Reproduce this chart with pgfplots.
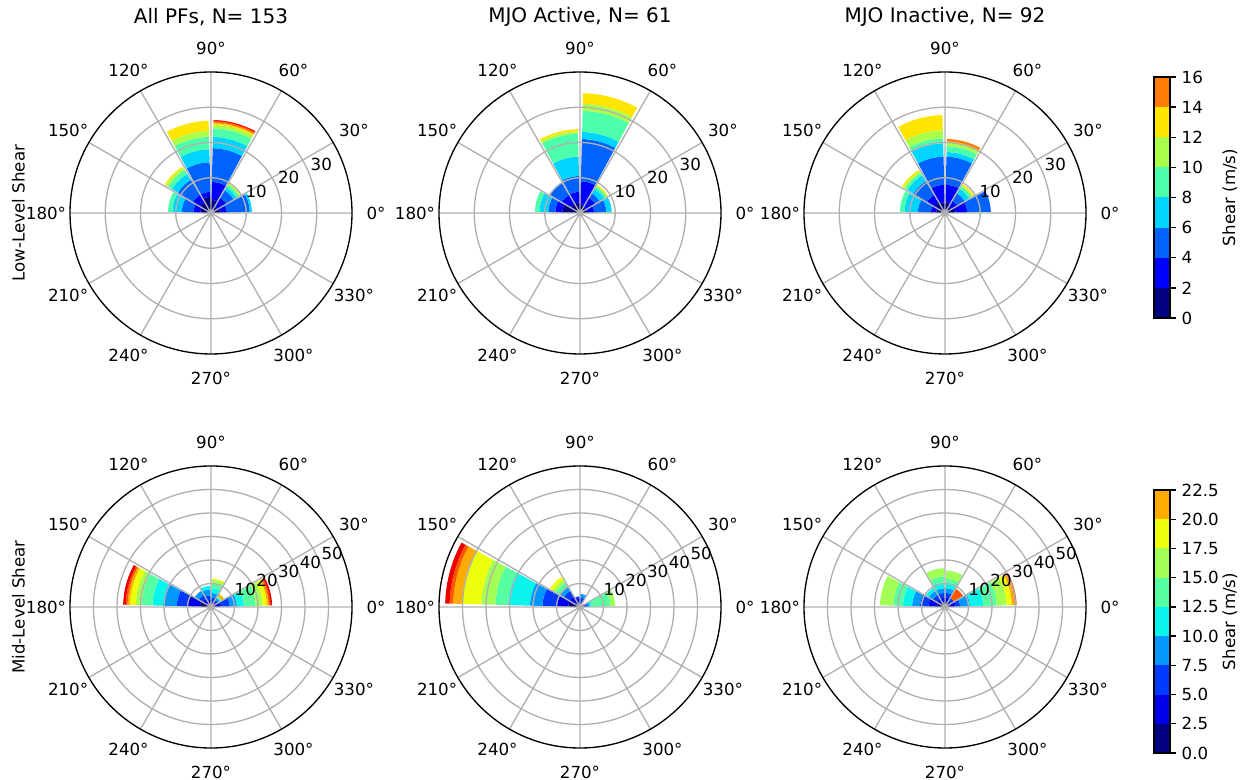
\documentclass[border=0pt]{standalone}
\usepackage{pgfplots}
\pgfplotsset{compat=1.18}
\usepgfplotslibrary{polar}
\usepackage{fontspec}
\setmainfont{DejaVu Sans}

% top colours (jet, 10 levels)
\definecolor{t1}{RGB}{0,0,128}
\definecolor{t2}{RGB}{0,0,255}
\definecolor{t3}{RGB}{0,99,255}
\definecolor{t4}{RGB}{0,212,255}
\definecolor{t5}{RGB}{77,255,170}
\definecolor{t6}{RGB}{170,255,77}
\definecolor{t7}{RGB}{255,229,0}
\definecolor{t8}{RGB}{255,125,0}
\definecolor{t9}{RGB}{255,20,0}
\definecolor{t10}{RGB}{128,0,0}
% bottom colours (jet, 12 levels)
\definecolor{b1}{RGB}{0,0,128}
\definecolor{b2}{RGB}{0,0,233}
\definecolor{b3}{RGB}{0,58,255}
\definecolor{b4}{RGB}{0,151,255}
\definecolor{b5}{RGB}{11,244,236}
\definecolor{b6}{RGB}{86,255,161}
\definecolor{b7}{RGB}{161,255,86}
\definecolor{b8}{RGB}{236,255,11}
\definecolor{b9}{RGB}{255,172,0}
\definecolor{b10}{RGB}{255,87,0}
\definecolor{b11}{RGB}{233,0,0}
\definecolor{b12}{RGB}{128,0,0}
\definecolor{gridc}{RGB}{176,176,176}

% one band of a wedge: #1 bin start angle, #2 inner radius, #3 outer radius, #4 colour
\newcommand\roseband[4]{%
  \pgfmathsetmacro\angA{#1+1.5}%
  \pgfmathsetmacro\angB{#1+28.5}%
  \gdef\pts{}%
  \foreach \k in {0,...,12}{%
    \pgfmathsetmacro\myang{\angA+\k*(\angB-\angA)/12}%
    \xdef\pts{\pts(\myang,#3)}}%
  \foreach \k in {0,...,12}{%
    \pgfmathsetmacro\myang{\angB-\k*(\angB-\angA)/12}%
    \xdef\pts{\pts(\myang,#2)}}%
  \edef\tmp{\noexpand\addplot[fill=#4,draw=none,forget plot] coordinates {\pts} -- cycle;}%
  \tmp
}
% a stacked wedge: #1 bin start angle, #2 colour prefix, #3 cumulative radii
\newcommand\rosewedge[3]{%
  \gdef\rin{0}%
  \foreach \rr [count=\ii] in {#3}{%
    \roseband{#1}{\rin}{\rr}{#2\ii}%
    \xdef\rin{\rr}}%
}
\newcommand\cbseg[3]{\addplot[fill=#1,draw=none] coordinates {(0,#2) (1,#2) (1,#3) (0,#3)} -- cycle;}

\pgfplotsset{
  rose/.style={
    scale only axis, width=169.2pt, height=169.2pt, anchor=center,
    xmin=0, xmax=360, ymin=0,
    xtick={0,30,...,330},
    xticklabel={\pgfmathprintnumber{\tick}°},
    xticklabel style={anchor=center, shift={(\tick:14.4pt)}},
    ticklabel style={font=\fontsize{10}{12}\selectfont},
    yticklabels={},
    /pgf/number format/assume math mode=true,
    grid=major,
    major grid style={draw=gridc, line width=0.8pt},
    major tick length=0pt,
    separate axis lines,
    x axis line style={draw=black, line width=0.8pt},
    y axis line style={draw=none},
    axis on top,
    clip=false,
  },
  toprow/.style={rose, ymax=40, ytick={10,20,30}},
  botrow/.style={rose, ymax=60, ytick={10,20,30,40,50}},
  rlab/.style={draw=none, mark=none, nodes near coords, point meta=explicit symbolic,
    nodes near coords style={anchor=south west, inner sep=1pt, font=\fontsize{10}{12}\selectfont}},
  cbar/.style={anchor=south west, scale only axis, width=9.6pt,
    xmin=0, xmax=1, ymin=0, xtick=\empty,
    ytick pos=right, yticklabel pos=right, tick align=outside,
    major tick length=3.5pt, tick style={black, line width=0.8pt},
    ticklabel style={font=\fontsize{10}{12}\selectfont},
    /pgf/number format/assume math mode=true,
    ylabel={Shear (m/s)}, label style={font=\fontsize{10}{12}\selectfont},
    ylabel style={at={(axis description cs:4.75,0.5)}, anchor=center, rotate=0},
    axis line style={line width=0.8pt}, axis on top},
}

\begin{document}
\begin{tikzpicture}
\useasboundingbox (0,0) rectangle (745.2pt,468pt);

% ---------------- top row: low-level shear ----------------
\begin{polaraxis}[toprow, at={(126.6pt,340.2pt)}]
\rosewedge{0}{t}{2.5,4.5,11,11.6}
\rosewedge{30}{t}{2,5,7.5,8.5,9.3,9.7,10}
\rosewedge{60}{t}{3.7,8.8,18.4,21.6,24,25,25.5,26,26.4}
\rosewedge{90}{t}{4.6,6,14.4,18.1,21.6,23.3,26.2}
\rosewedge{120}{t}{3.5,6,11,13,14.3,15,15.4}
\rosewedge{150}{t}{3,5,8.3,11,12.2}
\addplot[rlab] coordinates {(22.5,10)[10] (22.5,20)[20] (22.5,30)[30]};
\end{polaraxis}

\begin{polaraxis}[toprow, at={(348pt,340.2pt)}]
\rosewedge{0}{t}{2,4,7.5,9}
\rosewedge{30}{t}{2,5,6.5,8,8.8,9,9.3}
\rosewedge{60}{t}{2.5,9,21,23,29,31,34}
\rosewedge{90}{t}{3,6,10.5,16,22.5,23.2,23.8}
\rosewedge{120}{t}{3,6,10}
\rosewedge{150}{t}{5,7,9,11.5,12.8}
\addplot[rlab] coordinates {(22.5,10)[10] (22.5,20)[20] (22.5,30)[30]};
\end{polaraxis}

\begin{polaraxis}[toprow, at={(567pt,340.2pt)}]
\rosewedge{0}{t}{3,6.3,13}
\rosewedge{30}{t}{2,4,6.5,8,8.8,9.2,9.6}
\rosewedge{60}{t}{3,8,16,17.3,19,20,20.3,21}
\rosewedge{90}{t}{3,8,16,19.8,21.2,23.5,27.8}
\rosewedge{120}{t}{3.5,6,10.5,12.5,13.3,13.8,14.3}
\rosewedge{150}{t}{2.5,4,7.7,11.5,12.8}
\addplot[rlab] coordinates {(22.5,10)[10] (22.5,20)[20] (22.5,30)[30]};
\end{polaraxis}

% ---------------- bottom row: mid-level shear ----------------
\begin{polaraxis}[botrow, at={(126.6pt,103.8pt)}]
\rosewedge{0}{b}{1.5,4,8,11,14,19,22,23.8,24.6,25.3,26}
\rosewedge{30}{b}{1,2.5,3.5,4.5,4.5,5.5,5.5,5.5,6.5}
\rosewedge{60}{b}{1,2,4,6,8,10,11.5,12}
\rosewedge{90}{b}{1.5,3,5,7.5,9}
\rosewedge{120}{b}{2,4,6,8}
\rosewedge{150}{b}{4.7,10,14.6,20.4,25,29.5,32,34.5,35.5,36.3,37.4}
\addplot[rlab] coordinates {(22.5,10)[10] (22.5,20)[20] (22.5,30)[30] (22.5,40)[40] (22.5,50)[50]};
\end{polaraxis}

\begin{polaraxis}[botrow, at={(348pt,103.8pt)}]
\rosewedge{0}{b}{1,2,3,4,5,13,15}
\rosewedge{60}{b}{1,2,4,5.5}
\rosewedge{90}{b}{2,3.5,4.5}
\rosewedge{120}{b}{2,5,8,10,10,12,13.5,15}
\rosewedge{150}{b}{5,10,16,21.3,30.6,36,42,50,54,55.5,57.4}
\addplot[rlab] coordinates {(22.5,10)[10] (22.5,20)[20] (22.5,30)[30] (22.5,40)[40] (22.5,50)[50]};
\end{polaraxis}

\begin{polaraxis}[botrow, at={(567pt,103.8pt)}]
\rosewedge{0}{b}{2,4.5,6.4,10.6,16.3,22,26.2,28.4,29.6,30.5}
\rosewedge{30}{b}{1.5,3,4.5,4.5,4.5,4.5,4.5,4.5,4.5,9}
\rosewedge{60}{b}{2,4,6,8,10,12,15.5}
\rosewedge{90}{b}{2,4,6,8,10.5,13,16.5}
\rosewedge{120}{b}{2,4,6,8,9.5}
\rosewedge{150}{b}{3.4,7,10.6,14,17.9,22,27.7}
\addplot[rlab] coordinates {(22.5,10)[10] (22.5,20)[20] (22.5,30)[30] (22.5,40)[40] (22.5,50)[50]};
\end{polaraxis}

% ---------------- colour bars ----------------
\begin{axis}[cbar, at={(692.4pt,277.2pt)}, height=144.6pt, ymax=16, ytick={0,2,...,16}]
\cbseg{t1}{0}{2}\cbseg{t2}{2}{4}\cbseg{t3}{4}{6}\cbseg{t4}{6}{8}
\cbseg{t5}{8}{10}\cbseg{t6}{10}{12}\cbseg{t7}{12}{14}\cbseg{t8}{14}{16}
\end{axis}

\begin{axis}[cbar, at={(692.4pt,16.2pt)}, height=157.8pt, ymax=22.5, ytick={0,2.5,...,22.5},
  yticklabel style={/pgf/number format/.cd, fixed, fixed zerofill, precision=1}]
\cbseg{b1}{0}{2.5}\cbseg{b2}{2.5}{5}\cbseg{b3}{5}{7.5}\cbseg{b4}{7.5}{10}
\cbseg{b5}{10}{12.5}\cbseg{b6}{12.5}{15}\cbseg{b7}{15}{17.5}\cbseg{b8}{17.5}{20}
\cbseg{b9}{20}{22.5}
\end{axis}

% ---------------- titles and row labels ----------------
\node[font=\fontsize{12}{14}\selectfont] at (126.6pt,457.8pt) {All PFs, N= 153};
\node[font=\fontsize{12}{14}\selectfont] at (348pt,457.8pt) {MJO Active, N= 61};
\node[font=\fontsize{12}{14}\selectfont] at (567pt,457.8pt) {MJO Inactive, N= 92};
\node[font=\fontsize{10}{12}\selectfont, rotate=90] at (11pt,340.2pt) {Low-Level Shear};
\node[font=\fontsize{10}{12}\selectfont, rotate=90] at (11pt,103.8pt) {Mid-Level Shear};
\end{tikzpicture}
\end{document}
